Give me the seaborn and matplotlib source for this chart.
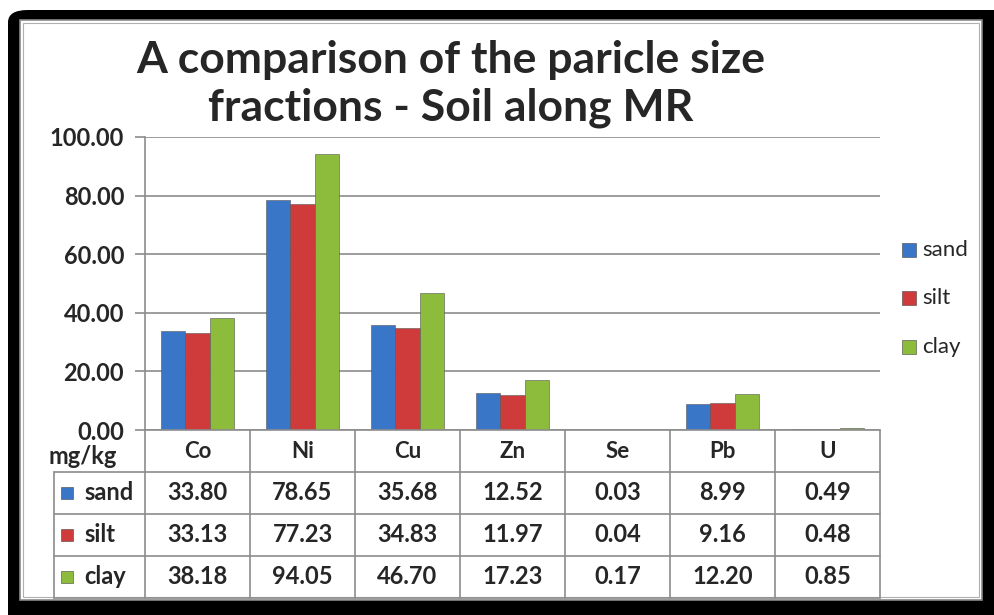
import numpy as np
import pandas as pd
import matplotlib
matplotlib.use("Agg")
import matplotlib.pyplot as plt
import matplotlib.transforms as mtransforms
from matplotlib.patches import FancyBboxPatch, Rectangle
import seaborn as sns

elements = ["Co", "Ni", "Cu", "Zn", "Se", "Pb", "U"]
fractions = ["sand", "silt", "clay"]
sand = [33.80, 78.65, 35.68, 12.52, 0.03, 8.99, 0.49]
silt = [33.13, 77.23, 34.83, 11.97, 0.04, 9.16, 0.48]
clay = [38.18, 94.05, 46.70, 17.23, 0.17, 12.20, 0.85]
yticks = [0, 20, 40, 60, 80, 100]
colors = ["#3a76c8", "#cf3a3a", "#8dbb3c"]

df = pd.DataFrame({
    "element": elements * 3,
    "fraction": ["sand"] * 7 + ["silt"] * 7 + ["clay"] * 7,
    "value": sand + silt + clay,
})

sns.set_style("white")
plt.rcParams["font.family"] = ["Lato", "DejaVu Sans"]

W, H = 995, 615
fig = plt.figure(figsize=(W / 100, H / 100), dpi=100)

def fx(px):
    return px / W

def fy(py):
    return 1 - py / H

# black rounded frame and inner grey double border
fig.patches.append(FancyBboxPatch((fx(8), -0.05), 1.05, fy(10) + 0.05,
                                  boxstyle="round,pad=0,rounding_size=0.02",
                                  transform=fig.transFigure, fc="black", ec="none", zorder=-10))
fig.patches.append(Rectangle((fx(20), fy(600)), fx(962), 580 / H, transform=fig.transFigure,
                             fc="white", ec="#8a8a8a", lw=1.2, zorder=-9))
fig.patches.append(Rectangle((fx(23), fy(597)), fx(956), 574 / H, transform=fig.transFigure,
                             fc="none", ec="#b0b0b0", lw=0.8, zorder=-8))

ax = fig.add_axes([fx(145), fy(430), fx(880) - fx(145), (430 - 137) / H])
ax.set_facecolor("none")

sns.barplot(data=df, x="element", y="value", hue="fraction", hue_order=fractions,
            palette=colors, saturation=1, width=0.69, ax=ax, legend=False,
            edgecolor="#555555", linewidth=0.4)

ax.set_xlim(-0.5, 6.5)
ax.set_ylim(0, 100)
ax.set_yticks(yticks)
ax.set_yticklabels([f"{v:.2f}" for v in yticks], fontsize=17, fontweight="bold")
ax.yaxis.grid(True, color="#8c8c8c", lw=1.2)
ax.set_axisbelow(True)
ax.tick_params(axis="y", length=7, color="#8c8c8c", width=1.2, pad=8, left=True)
ax.set_xticks([])
ax.set_xlabel("")
ax.set_ylabel("")
for s in ["top", "right", "bottom"]:
    ax.spines[s].set_visible(False)
ax.spines["left"].set_color("#8c8c8c")
ax.spines["left"].set_linewidth(1.2)

# data table under the axis
ah = 430 - 137
rows = [0, -42 / ah, -84 / ah, -126 / ah, -168 / ah]
xl = (54 - 145) / (880 - 145)
lc = "#8c8c8c"
tr = mtransforms.blended_transform_factory(ax.transData, ax.transAxes)
for i, r in enumerate(rows):
    x0 = 0 if i == 0 else xl
    ax.plot([x0, 1], [r, r], transform=ax.transAxes, color=lc, lw=1.2, clip_on=False)
for b in np.arange(-0.5, 7.0, 1.0):
    ax.plot([b, b], [0, rows[-1]], transform=tr, color=lc, lw=1.2, clip_on=False)
ax.plot([xl, xl], [rows[1], rows[-1]], transform=ax.transAxes, color=lc, lw=1.2, clip_on=False)

for j, el in enumerate(elements):
    ax.text(j, (rows[0] + rows[1]) / 2, el, transform=tr, ha="center", va="center",
            fontsize=16, fontweight="bold")
    for k, vals in enumerate([sand, silt, clay]):
        ax.text(j, (rows[k + 1] + rows[k + 2]) / 2, f"{vals[j]:.2f}", transform=tr,
                ha="center", va="center", fontsize=17, fontweight="bold")

for k, name in enumerate(fractions):
    yc = (rows[k + 1] + rows[k + 2]) / 2
    ax.scatter([(67 - 145) / 735], [yc], transform=ax.transAxes, marker="s", s=80,
               color=colors[k], edgecolor="#444444", lw=0.4, clip_on=False)
    ax.text((84 - 145) / 735, yc, name, transform=ax.transAxes, ha="left", va="center",
            fontsize=17, fontweight="bold")

ax.text((83 - 145) / 735, -27 / ah, "mg/kg", transform=ax.transAxes, ha="center",
        va="center", fontsize=17, fontweight="bold")

# legend on the right
for k, name in enumerate(fractions):
    yp = [250, 298, 347][k]
    fig.patches.append(Rectangle((fx(902), fy(yp + 7)), fx(14), 14 / H, transform=fig.transFigure,
                                 fc=colors[k], ec="#444444", lw=0.4))
    fig.text(fx(922), fy(yp), name, ha="left", va="center", fontsize=16)

fig.text(fx(451), fy(73), "A comparison of the paricle size", ha="center", va="baseline",
         fontsize=32, fontweight="bold")
fig.text(fx(451), fy(121), "fractions - Soil along MR", ha="center", va="baseline",
         fontsize=32, fontweight="bold")

fig.savefig("out.png", dpi=100)
